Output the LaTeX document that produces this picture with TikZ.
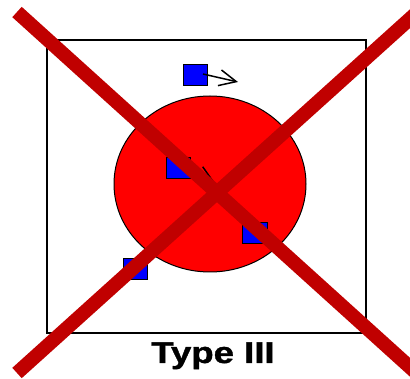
\documentclass[tikz,border=0pt]{standalone}
\usepackage{fontspec}
\setmainfont{Liberation Sans}
\newfontfamily\heavyfont{Liberation Sans}[UprightFont=*-Bold,FakeBold=1.2]
\usetikzlibrary{arrows.meta,shapes.geometric}
\definecolor{xred}{RGB}{192,0,0}
\tikzset{
  frame/.style={draw=black,line width=1.4pt},
  blob/.style={draw=black,fill=red,line width=1pt},
  molecule/.style={draw=black,fill=blue,line width=1pt},
  move/.style={draw=black,line width=1.5pt,-{Straight Barb[length=17pt,width=16pt]}},
  cross/.style={draw=xred,line width=14pt}
}
\begin{document}
\begin{tikzpicture}[x=1pt,y=-1pt]
\useasboundingbox (0,0) rectangle (410,379);
\clip (0,0) rectangle (410,379);
\draw[frame] (47,40) rectangle (366,333);
\node[blob,ellipse,minimum width=192pt,minimum height=176pt,inner sep=0pt] (cell) at (210,184) {};
\path[molecule] (183,65) rectangle (207,86);
\path[molecule] (166,158) rectangle (190,179);
\path[molecule] (242,223) rectangle (267,244);
\path[molecule] (123,259) rectangle (147,280);
\coordinate (s1) at (203,74);
\coordinate (t1) at (238,82);
\coordinate (s2) at (180,163);
\coordinate (t2) at (215,183);
\draw[move] (s1) -- (t1);
\draw[move] (s2) -- (t2);
\coordinate (a1) at (17,12);
\coordinate (a2) at (423,379);
\coordinate (b1) at (17,373);
\coordinate (b2) at (423,7);
\draw[cross] (a1) -- (a2);
\draw[cross] (b1) -- (b2);
\node[anchor=base,inner sep=0pt,font=\heavyfont\fontsize{30}{32}\selectfont] (label) at (213,363) {\scalebox{1.22}[1]{Type III}};
\end{tikzpicture}
\end{document}
